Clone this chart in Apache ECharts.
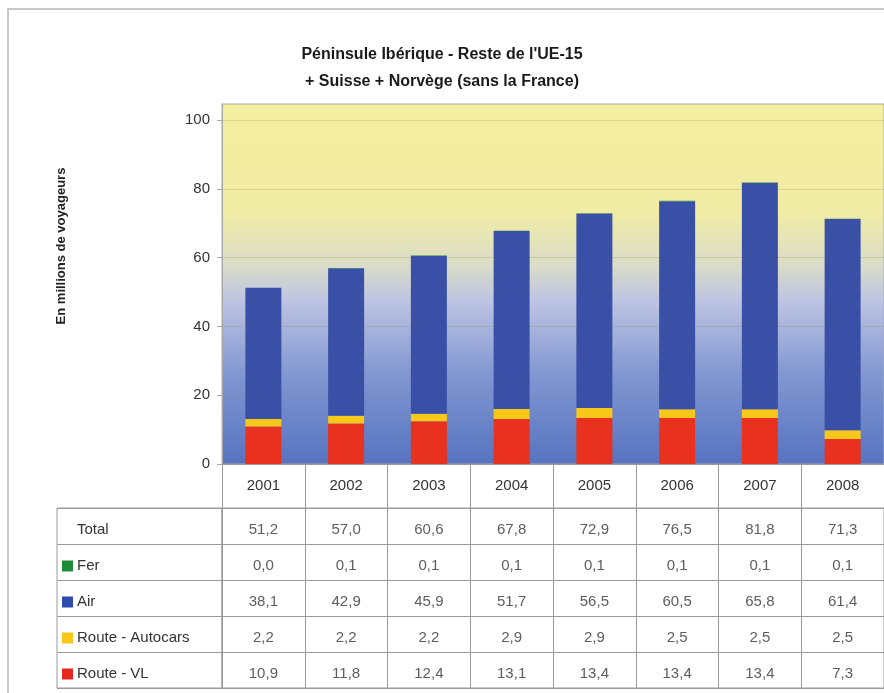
<!DOCTYPE html>
<html>
<head>
<meta charset="utf-8">
<script src="https://cdn.jsdelivr.net/npm/echarts@6/dist/echarts.min.js"></script>
<style>
html,body{margin:0;padding:0;background:#fff;}
#chart{width:884px;height:693px;}
</style>
</head>
<body>
<div id="chart"></div>
<script>
// ---- data ----
const years = ['2001','2002','2003','2004','2005','2006','2007','2008'];
const routeVL = [10.9, 11.8, 12.4, 13.1, 13.4, 13.4, 13.4, 7.3];
const routeAutocars = [2.2, 2.2, 2.2, 2.9, 2.9, 2.5, 2.5, 2.5];
const air = [38.1, 42.9, 45.9, 51.7, 56.5, 60.5, 65.8, 61.4];
const fer = [0.0, 0.1, 0.1, 0.1, 0.1, 0.1, 0.1, 0.1];
const total = [51.2, 57.0, 60.6, 67.8, 72.9, 76.5, 81.8, 71.3];
const rowNames = ['Total', 'Fer', 'Air', 'Route - Autocars', 'Route - VL'];
const yTicks = [0, 20, 40, 60, 80, 100];

const colVL = '#e8321f', colAuto = '#f7c81a', colAir = '#3a50a6', colFer = '#1f8c3c';
const rowColors = [null, colFer, '#2f4bb0', colAuto, '#e8281e'];
const rowValues = [total, fer, air, routeAutocars, routeVL];
const FONT = 'Liberation Sans, Arial, sans-serif';
const TFONT = 'Liberation Sans Narrow, Liberation Sans, Arial, sans-serif';

const tableData = [];
rowValues.forEach((arr, r) => arr.forEach((v, i) => tableData.push([i, r, v])));

const chart = echarts.init(document.getElementById('chart'));
const sqRich = {};
rowColors.forEach((c, i) => {
  sqRich['s' + i] = { width: 11, height: 11, backgroundColor: c || 'transparent' };
});
sqRich.t = { fontSize: 15, color: '#333', fontFamily: FONT, padding: [0, 0, 0, 4] };

const option = {
  animation: false,
  backgroundColor: '#fff',
  title: {
    text: "Péninsule Ibérique - Reste de l'UE-15\n+ Suisse + Norvège (sans la France)",
    left: 'center',
    top: 36,
    textStyle: { fontSize: 16, fontWeight: 'bold', color: '#1a1a1a', lineHeight: 27, fontFamily: TFONT }
  },
  graphic: [{
    type: 'rect', silent: true, z: -1,
    shape: { x: 8, y: 9, width: 900, height: 700 },
    style: { fill: 'none', stroke: '#c8c8c8', lineWidth: 2 }
  }],
  grid: [
    {
      left: 222, top: 104, width: 667, height: 360, show: true,
      borderColor: '#a8a8a8', borderWidth: 1,
      backgroundColor: new echarts.graphic.LinearGradient(0, 0, 0, 1, [
        { offset: 0, color: '#f4ee9f' },
        { offset: 0.3, color: '#f1eca4' },
        { offset: 0.45, color: '#d9dcc8' },
        { offset: 0.55, color: '#bcc3e2' },
        { offset: 0.75, color: '#8197d2' },
        { offset: 1, color: '#5773c0' }
      ])
    },
    { left: 57, top: 508, width: 165, height: 180, show: true, borderColor: '#9a9a9a', borderWidth: 1 },
    { left: 222, top: 508, width: 667, height: 180, show: true, borderColor: '#9a9a9a', borderWidth: 1 }
  ],
  xAxis: [
    {
      gridIndex: 0, type: 'category', data: years,
      axisLine: { show: true, lineStyle: { color: '#9a9a9a' } },
      axisTick: { show: true, length: 44, interval: 0, lineStyle: { color: '#9a9a9a' } },
      axisLabel: { margin: 14, fontSize: 15, color: '#333', fontFamily: FONT, interval: 0 }
    },
    { gridIndex: 1, type: 'category', data: [''], show: false },
    {
      gridIndex: 2, type: 'category', data: years,
      axisLine: { show: false }, axisTick: { show: false }, axisLabel: { show: false },
      splitLine: { show: true, interval: 0, lineStyle: { color: '#9a9a9a' } }
    }
  ],
  yAxis: [
    {
      gridIndex: 0, type: 'value', min: 0, max: 104.65, interval: 20,
      name: 'En millions de voyageurs', nameLocation: 'middle', nameGap: 154, nameRotate: 90,
      nameTextStyle: { fontSize: 13, fontWeight: 'bold', color: '#222', fontFamily: FONT, padding: [0, 0, 0, 76] },
      axisLine: { show: true, lineStyle: { color: '#a8a8a8' } },
      axisTick: { show: true, length: 5, customValues: yTicks, lineStyle: { color: '#a8a8a8' } },
      axisLabel: { customValues: yTicks, margin: 12, fontSize: 15, color: '#333', fontFamily: FONT },
      splitLine: { show: true, lineStyle: { color: 'rgba(150,145,100,0.28)' } }
    },
    {
      gridIndex: 1, type: 'category', data: rowNames, inverse: true,
      axisLine: { show: false }, axisTick: { show: false },
      splitLine: { show: true, lineStyle: { color: '#9a9a9a' } },
      axisLabel: {
        inside: true, margin: 5, align: 'left', padding: [8, 0, 0, 0],
        formatter: (v, i) => '{s' + i + '|}{t|' + v + '}',
        rich: sqRich
      }
    },
    {
      gridIndex: 2, type: 'category', data: rowNames, inverse: true,
      axisLine: { show: false }, axisTick: { show: false }, axisLabel: { show: false },
      splitLine: { show: true, lineStyle: { color: '#9a9a9a' } }
    }
  ],
  series: [
    { name: 'Route - VL', type: 'bar', stack: 'tot', data: routeVL, barWidth: 36, itemStyle: { color: colVL } },
    { name: 'Route - Autocars', type: 'bar', stack: 'tot', data: routeAutocars, barWidth: 36, itemStyle: { color: colAuto } },
    { name: 'Air', type: 'bar', stack: 'tot', data: air, barWidth: 36, itemStyle: { color: colAir } },
    { name: 'Fer', type: 'bar', stack: 'tot', data: fer, barWidth: 36, itemStyle: { color: colFer } },
    {
      name: 'table', type: 'scatter', xAxisIndex: 2, yAxisIndex: 2,
      data: tableData, symbolSize: 2, itemStyle: { color: 'rgba(0,0,0,0)' },
      label: {
        show: true, position: 'inside', offset: [0, 4], fontSize: 15, color: '#333', fontFamily: FONT,
        formatter: p => p.value[2].toFixed(1).replace('.', ',')
      }
    }
  ]
};
chart.setOption(option);
</script>
</body>
</html>
